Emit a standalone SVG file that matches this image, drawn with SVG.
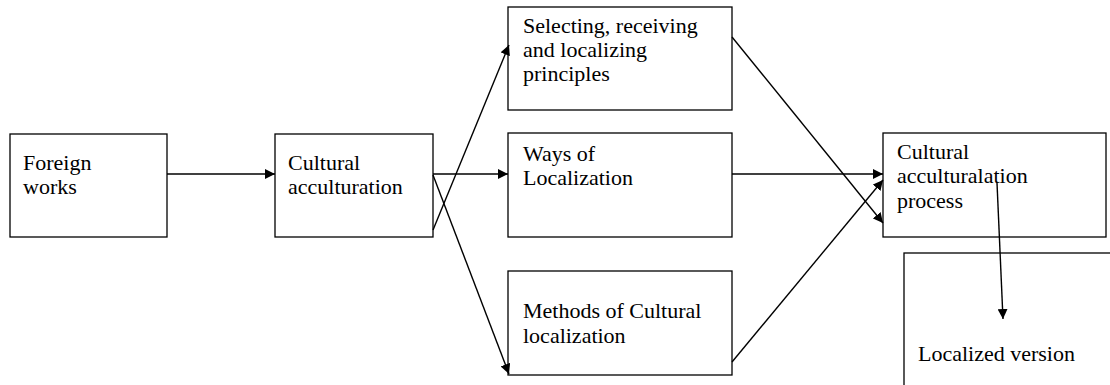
<svg xmlns="http://www.w3.org/2000/svg" width="1110" height="385" viewBox="0 0 1110 385">
<defs>
<marker id="ah" viewBox="0 0 10 10" refX="10" refY="5" markerWidth="10" markerHeight="10" markerUnits="userSpaceOnUse" orient="auto">
<path d="M0,0 L10,5 L0,10 z" fill="#000"/>
</marker>
<style>
.box{fill:#fff;stroke:#000;stroke-width:1.3}
.t{font-family:"Liberation Serif","Times New Roman",serif;font-size:22px;fill:#000}
.c{stroke:#000;stroke-width:1.4;fill:none;marker-end:url(#ah)}
</style>
</defs>
<rect width="1110" height="385" fill="#fff"/>
<g id="n-foreign"><rect class="box" x="10" y="134" width="157" height="103"/><text class="t" x="23" y="170">Foreign</text><text class="t" x="23" y="194">works</text></g>
<g id="n-acculturation"><rect class="box" x="275" y="134" width="158" height="103"/><text class="t" x="288" y="170">Cultural</text><text class="t" x="288" y="194">acculturation</text></g>
<g id="n-selecting"><rect class="box" x="508" y="7" width="224" height="103"/><text class="t" x="523" y="33">Selecting, receiving</text><text class="t" x="523" y="57">and localizing</text><text class="t" x="523" y="81">principles</text></g>
<g id="n-ways"><rect class="box" x="508" y="133" width="224" height="104"/><text class="t" x="523" y="161">Ways of</text><text class="t" x="523" y="185">Localization</text></g>
<g id="n-methods"><rect class="box" x="508" y="271" width="224" height="104"/><text class="t" x="523" y="318">Methods of Cultural</text><text class="t" x="523" y="343">localization</text></g>
<g id="n-process"><rect class="box" x="883" y="133" width="223" height="104"/><text class="t" x="897" y="159">Cultural</text><text class="t" x="897" y="183">acculturalation</text><text class="t" x="897" y="208">process</text></g>
<g id="n-localized"><rect class="box" x="904" y="253" width="220" height="150"/><text class="t" x="918" y="361">Localized version</text></g>
<g id="connectors">
<line class="c" x1="167" y1="174" x2="275" y2="174"/>
<line class="c" x1="433" y1="230" x2="509" y2="45"/>
<line class="c" x1="433" y1="174" x2="508" y2="174"/>
<line class="c" x1="433" y1="175" x2="509" y2="374"/>
<line class="c" x1="732" y1="37" x2="883" y2="223"/>
<line class="c" x1="732" y1="174" x2="883" y2="174"/>
<line class="c" x1="732" y1="362" x2="883" y2="180"/>
<line class="c" x1="997" y1="183" x2="1003" y2="319"/>
</g>
</svg>
